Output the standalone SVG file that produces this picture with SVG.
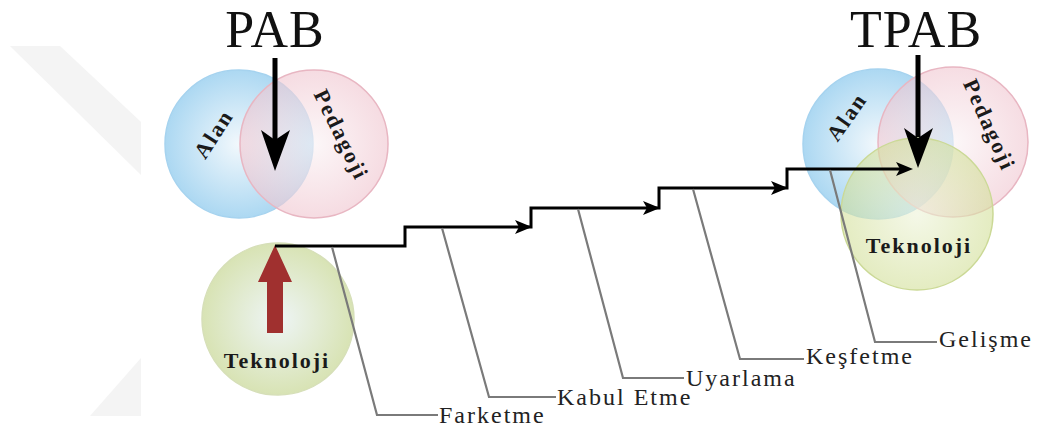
<svg xmlns="http://www.w3.org/2000/svg" width="1041" height="430" viewBox="0 0 1041 430">
  <style>
    .title { font-family: "Liberation Serif", "Times New Roman", serif; font-size: 52px; fill: #111; letter-spacing: 1px; text-anchor: middle; }
    .set { font-family: "Liberation Serif", "Times New Roman", serif; font-size: 22px; font-weight: bold; fill: #1a1a1a; letter-spacing: 2px; text-anchor: middle; }
    .stage { font-family: "Liberation Serif", "Times New Roman", serif; font-size: 24px; fill: #222; letter-spacing: 2px; }
    .step { fill: none; stroke: #000; stroke-width: 3; }
    .leader { fill: none; stroke: #7a7a7a; stroke-width: 2.2; }
    .down { stroke: #000; stroke-width: 5; }
    .bg { fill: #f4f4f4; }
  </style>
  <defs>
    <radialGradient id="gBlue" cx="50%" cy="50%" r="50%">
      <stop offset="0" stop-color="#f2f8fc"/>
      <stop offset="1" stop-color="#acd8f2"/>
    </radialGradient>
    <radialGradient id="gPink" cx="50%" cy="50%" r="50%">
      <stop offset="0" stop-color="#faf2f4"/>
      <stop offset="1" stop-color="#f0c6d0"/>
    </radialGradient>
    <radialGradient id="gGreen" cx="50%" cy="50%" r="50%">
      <stop offset="0" stop-color="#eef5f6"/>
      <stop offset="1" stop-color="#d8e3b4"/>
    </radialGradient>
    <radialGradient id="gGreenR" cx="50%" cy="50%" r="50%">
      <stop offset="0" stop-color="#edf3d8"/>
      <stop offset="1" stop-color="#d2df98"/>
    </radialGradient>
  </defs>

  <rect width="1041" height="430" fill="#fff"/>

  <!-- faint background band -->
  <polygon class="bg" points="10,46 60,46 141,122 141,175"/>
  <polygon class="bg" points="90,416 141,358 141,416"/>

  <!-- left set diagram: PAB -->
  <g id="pab">
    <circle cx="239" cy="144" r="74" fill="url(#gBlue)" stroke="#a6d3ef" stroke-width="1.5"/>
    <circle cx="314" cy="144" r="74" fill="url(#gPink)" fill-opacity="0.62" stroke="#e8b6c2" stroke-width="1.5"/>
    <text class="set" transform="translate(214,134) rotate(-57)" dy="7">Alan</text>
    <text class="set" transform="translate(341,135) rotate(64)" dy="7">Pedagoji</text>
    <text class="title" x="275" y="47">PAB</text>
    <line class="down" x1="275" y1="58" x2="275" y2="140"/>
    <polygon points="275,171 261,130 275,140 290,130" fill="#000"/>
  </g>

  <!-- left technology circle -->
  <g id="teknoloji">
    <circle cx="278" cy="319" r="76" fill="url(#gGreen)" stroke="#d6dfb8" stroke-width="1.5"/>
    <polygon points="275,245 258,282 267,282 267,333 283,333 283,282 292,282" fill="#a0302f"/>
    <text class="set" x="277" y="368">Teknoloji</text>
  </g>

  <!-- right set diagram: TPAB -->
  <g id="tpab">
    <circle cx="878" cy="144" r="75" fill="url(#gBlue)" stroke="#a6d3ef" stroke-width="1.5"/>
    <circle cx="953" cy="142" r="75" fill="url(#gPink)" fill-opacity="0.6" stroke="#e8b6c2" stroke-width="1.5"/>
    <circle cx="917" cy="214" r="76" fill="url(#gGreenR)" fill-opacity="0.6" stroke="#cbd996" stroke-width="1.5"/>
    <text class="set" transform="translate(847,117) rotate(-55)" dy="7">Alan</text>
    <text class="set" transform="translate(989,125) rotate(66)" dy="7">Pedagoji</text>
    <text class="set" x="919" y="253">Teknoloji</text>
    <text class="title" x="916" y="47">TPAB</text>
    <line class="down" x1="918" y1="55" x2="918" y2="137"/>
    <polygon points="918,168 904,128 918,138 933,128" fill="#000"/>
  </g>

  <!-- stage labels -->
  <g id="farketme"><text class="stage" x="439" y="423">Farketme</text></g>
  <g id="kabul-etme"><text class="stage" x="557" y="405">Kabul Etme</text></g>
  <g id="uyarlama"><text class="stage" x="686" y="386">Uyarlama</text></g>
  <g id="kesfetme"><text class="stage" x="806" y="364">Keşfetme</text></g>
  <g id="gelisme"><text class="stage" x="939" y="347">Gelişme</text></g>

  <!-- connectors: rising path and stage leaders -->
  <g id="connectors">
    <path class="step" d="M275,246 H405 V227 H531 V208 H659 V188 H787 V169 H905"/>
    <polygon points="532,227 515,220 519,227 515,234" fill="#000"/>
    <polygon points="660,208 643,201 647,208 643,215" fill="#000"/>
    <polygon points="788,188 771,181 775,188 771,195" fill="#000"/>
    <polygon points="913,169 896,162 900,169 896,176" fill="#000"/>

    <polyline class="leader" points="332,247 377,415 438,415"/>
    <polyline class="leader" points="442,228 489,397 556,397"/>
    <polyline class="leader" points="578,209 623,378 684,378"/>
    <polyline class="leader" points="693,189 740,359 804,359"/>
    <polyline class="leader" points="830,170 875,342 937,342"/>
  </g>
</svg>
